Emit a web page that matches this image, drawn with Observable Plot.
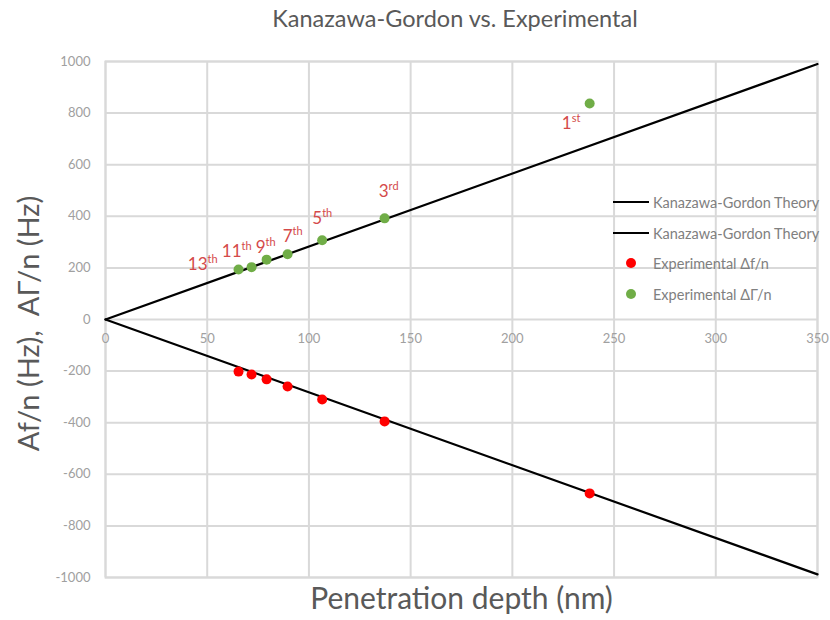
<!DOCTYPE html>
<html>
<head>
<meta charset="utf-8">
<script src="https://cdn.jsdelivr.net/npm/d3@7"></script>
<script src="https://cdn.jsdelivr.net/npm/@observablehq/plot@0.6"></script>
<style>
  body { margin: 0; background: #fff; font-family: Lato, "Open Sans", sans-serif; }
  #wrap { position: relative; width: 830px; height: 620px; }
  #title { position: absolute; top: 3px; left: 99px; width: 712px; text-align: center;
           font-size: 23.5px; color: #595959; line-height: 30px; }
  #legend { position: absolute; left: 612px; top: 190px; font-size: 14.5px; color: #808080; }
  .row { position: absolute; left: 0; height: 24px; white-space: nowrap; display: flex; align-items: center; }
  .sym { width: 38px; height: 24px; position: relative; }
  .sym .ln { position: absolute; left: 1px; top: 11px; width: 36px; height: 2.2px; background: #000; }
  .sym .dt { position: absolute; left: 14px; top: 7px; width: 10px; height: 10px; border-radius: 50%; }
  .lab { margin-left: 3px; }
</style>
</head>
<body>
<div id="wrap">
  <div id="chart"></div>
  <div id="title"></div>
  <div id="legend"></div>
</div>
<script>
// ---- data ----
const chartTitle = "Kanazawa-Gordon vs. Experimental";
const xLabel = "Penetration depth (nm)";
const yLabel = "Af/n (Hz),  AΓ/n (Hz)";
const xTicks = [0, 50, 100, 150, 200, 250, 300, 350];
const yTicks = [-1000, -800, -600, -400, -200, 0, 200, 400, 600, 800, 1000];

const harmonicNumber = ["1", "3", "5", "7", "9", "11", "13"];
const harmonicSuffix = ["st", "rd", "th", "th", "th", "th", "th"];
const depth  = [238, 137.2, 106.5, 89.5, 79.2, 71.8, 65.4];
const dGamma = [837, 392, 307, 253, 232, 203, 194];
const dF     = [-674, -395, -310, -260, -232, -213, -202];

const theoryDepth = [0, 350];
const theoryGamma = [0, 990];
const theoryF     = [0, -988];

const legendNames = ["Kanazawa-Gordon Theory", "Kanazawa-Gordon Theory", "Experimental \u0394f/n", "Experimental \u0394\u0393/n"];

// ---- layout (not data) ----
const labelOffsets = [ // [dx, dy] from point to junction of number/suffix, baseline
  [-18, 25], [4, -21], [0, -16], [5, -12], [-1, -7], [-10, -10], [-31, 1]
];
const labelColor = "#d44a4a";
const gridColor = "#d9d9d9";
const tickColor = "#a0a0a0";

const idx = depth.map((_, i) => i);
const gammaPts = idx.map(i => ({x: depth[i], y: dGamma[i]}));
const fPts = idx.map(i => ({x: depth[i], y: dF[i]}));
const lineG = theoryDepth.map((d, i) => ({x: d, y: theoryGamma[i]}));
const lineF = theoryDepth.map((d, i) => ({x: d, y: theoryF[i]}));

const labelMarks = idx.flatMap(i => {
  const [dx, dy] = labelOffsets[i];
  const p = [gammaPts[i]];
  return [
    Plot.text(p, {x: "x", y: "y", text: () => harmonicNumber[i], dx, dy, textAnchor: "end",
      lineAnchor: "bottom", fontSize: 17, fill: labelColor}),
    Plot.text(p, {x: "x", y: "y", text: () => harmonicSuffix[i], dx, dy: dy - 7, textAnchor: "start",
      lineAnchor: "bottom", fontSize: 11, fill: labelColor})
  ];
});

const chart = Plot.plot({
  width: 830,
  height: 620,
  marginTop: 61,
  marginBottom: 43,
  marginLeft: 105,
  marginRight: 13,
  style: {fontFamily: "Lato, 'Open Sans', sans-serif", background: "transparent", overflow: "visible"},
  x: {domain: [0, 350], axis: null},
  y: {domain: [-1000, 1000], axis: null},
  marks: [
    Plot.gridX(xTicks, {stroke: gridColor, strokeOpacity: 1, strokeWidth: 2}),
    Plot.gridY(yTicks, {stroke: gridColor, strokeOpacity: 1, strokeWidth: 2}),
    Plot.frame({stroke: gridColor, strokeWidth: 2}),
    Plot.axisY(yTicks, {tickSize: 0, tickPadding: 15, fontSize: 13, fill: tickColor, label: null,
      tickFormat: d => String(d)}),
    Plot.text(xTicks, {x: d => d, y: 0, dy: 19, text: d => String(d), fontSize: 13, fill: tickColor}),
    Plot.line(lineG, {x: "x", y: "y", stroke: "#000", strokeWidth: 2.2}),
    Plot.line(lineF, {x: "x", y: "y", stroke: "#000", strokeWidth: 2.2}),
    Plot.dot(fPts, {x: "x", y: "y", r: 5, fill: "#ff0000"}),
    Plot.dot(gammaPts, {x: "x", y: "y", r: 5, fill: "#70ad47"}),
    ...labelMarks,
    Plot.text([xLabel], {frameAnchor: "bottom", text: d => d, dy: 31, fontSize: 30, fill: "#595959"}),
    Plot.text([yLabel], {frameAnchor: "left", textAnchor: "middle", text: d => d, dx: -76, dy: 4, rotate: -90,
      fontSize: 29, fill: "#595959"})
  ]
});
document.getElementById("chart").appendChild(chart);
document.getElementById("title").textContent = chartTitle;

const legendKinds = [["line", "#000"], ["line", "#000"], ["dot", "#ff0000"], ["dot", "#70ad47"]];
const legendTops = [0, 31, 61, 92];
const leg = document.getElementById("legend");
legendNames.forEach((name, i) => {
  const row = document.createElement("div");
  row.className = "row";
  row.style.top = legendTops[i] + "px";
  const sym = document.createElement("div");
  sym.className = "sym";
  const mark = document.createElement("div");
  if (legendKinds[i][0] === "line") { mark.className = "ln"; }
  else { mark.className = "dt"; mark.style.background = legendKinds[i][1]; }
  sym.appendChild(mark);
  const lab = document.createElement("span");
  lab.className = "lab";
  lab.textContent = name;
  row.appendChild(sym);
  row.appendChild(lab);
  leg.appendChild(row);
});
</script>
</body>
</html>
